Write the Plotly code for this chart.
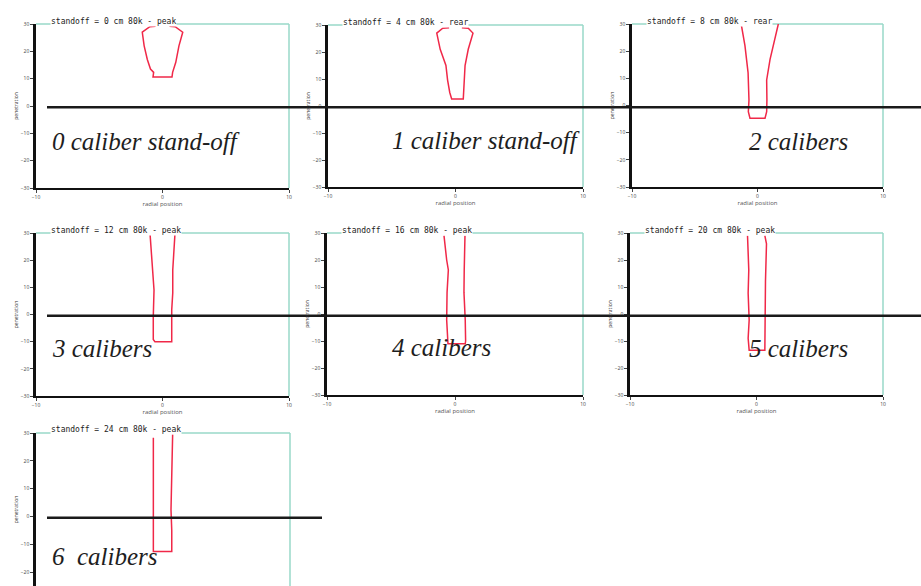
import plotly.graph_objects as go

W, H = 921, 586

# ---- data ----
calibers = [0, 1, 2, 3, 4, 5, 6]
labels = ["0 caliber stand-off", "1 caliber stand-off", "2 calibers", "3 calibers",
          "4 calibers", "5 calibers", "6  calibers"]
titles = ["standoff = 0 cm 80k - peak", "standoff = 4 cm 80k - rear", "standoff = 8 cm 80k - rear",
          "standoff = 12 cm 80k - peak", "standoff = 16 cm 80k - peak", "standoff = 20 cm 80k - peak",
          "standoff = 24 cm 80k - peak"]

p0_x = [-0.55, -1.0, -1.6, -1.45, -1.2, -0.95, -0.7, -0.75, 0.75, 0.8, 1.05, 1.3, 1.6, 1.0, 0.55]
p0_y = [29.2, 29.0, 27.0, 22.0, 17.0, 13.5, 12.3, 10.6, 10.6, 12.3, 16.0, 22.0, 27.0, 29.0, 29.2]
p1_x = [-0.5, -1.0, -1.47, -1.2, -0.75, -0.62, -0.45, -0.30, 0.61, 0.66, 0.75, 1.0, 1.37, 1.0, 0.5]
p1_y = [29.0, 28.8, 27.0, 21.0, 15.0, 9.6, 5.0, 2.6, 2.6, 8.0, 15.0, 21.0, 27.0, 28.8, 29.0]
p2_x = [-1.3, -1.0, -0.75, -0.72, -0.68, -0.73, -0.60, 0.60, 0.73, 0.75, 0.73, 1.0, 1.3, 1.66]
p2_y = [30.0, 22.0, 12.0, 9.4, 2.0, -2.3, -4.7, -4.7, -2.3, 2.0, 9.4, 17.0, 23.0, 30.0]
p3_x = [-0.99, -0.85, -0.73, -0.67, -0.73, -0.73, -0.6, 0.73, 0.73, 0.73, 0.81, 0.81, 0.99]
p3_y = [30.0, 22.0, 13.9, 9.0, -0.8, -9.2, -10.0, -10.0, -9.2, 1.7, 7.9, 16.4, 30.0]
p4_x = [-0.86, -0.78, -0.65, -0.52, -0.62, -0.65, -0.6, -0.55, 0.80, 0.83, 0.80, 0.70, 0.72, 0.78]
p4_y = [29.0, 25.0, 20.0, 16.3, 8.0, -2.2, -10.3, -11.0, -11.0, -10.0, -2.2, 8.0, 16.3, 29.0]
p5_x = [-0.71, -0.66, -0.61, -0.66, -0.58, -0.66, -0.61, -0.58, 0.66, 0.66, 0.66, 0.71, 0.79, 0.66]
p5_y = [29.0, 22.0, 16.3, 7.7, -2.2, -9.0, -12.1, -13.4, -13.4, -9.0, -2.2, 12.0, 26.0, 29.0]
p6_x = [-0.76, -0.76, -0.76, 0.69, 0.69, 0.63, 0.69, 0.76]
p6_y = [28.3, 10.0, -12.6, -12.6, -5.0, 2.4, 15.8, 29.5]

profiles_x = [p0_x, p1_x, p2_x, p3_x, p4_x, p5_x, p6_x]
profiles_y = [p0_y, p1_y, p2_y, p3_y, p4_y, p5_y, p6_y]

x_ticks = [-10, 0, 10]
y_ticks = [-30, -20, -10, 0, 10, 20, 30]
surface_level = -0.5

# ---- layout geometry (pixels: left, right, top, bottom) ----
boxes = [(36, 289, 24, 188), (328, 583, 25, 187), (632, 883, 24, 187),
         (36, 289, 233, 396), (327, 583, 233, 395), (630, 883, 233, 395),
         (36, 290, 433, 586)]
yranges = [[-30, 30]] * 6 + [[-25, 30]]
label_pos = [(50, 141, "left"), (582, 140, "right"), (850, 141, "right"),
             (50, 348, "left"), (493, 347, "right"), (850, 348, "right"),
             (50, 556, "left")]

fig = go.Figure()
shapes = []
annotations = []
layout = {}
teal = "#98d9c8"
red = "#f02848"

for i in range(7):
    n = "" if i == 0 else str(i + 1)
    xa, ya = "x" + n, "y" + n
    L, R, T, B = boxes[i]
    fig.add_trace(go.Scatter(x=profiles_x[i], y=profiles_y[i], mode="lines",
                             line=dict(color=red, width=1.5), xaxis=xa, yaxis=ya,
                             showlegend=False, hoverinfo="skip"))
    last = i == 6
    layout["xaxis" + n] = dict(domain=[L / W, R / W], anchor=ya, range=[-10, 10],
                               tickvals=x_ticks, ticks="" if last else "outside", ticklen=3,
                               showticklabels=not last, automargin=False,
                               tickfont=dict(size=5, color="#444"), showline=not last,
                               linecolor="#111", linewidth=2, showgrid=False, zeroline=False,
                               title=dict(text="" if last else "radial position",
                                          font=dict(size=6, color="#555"), standoff=2))
    layout["yaxis" + n] = dict(domain=[1 - B / H, 1 - T / H], anchor=xa, range=yranges[i],
                               tickvals=y_ticks, ticks="outside", ticklen=3, automargin=False,
                               tickfont=dict(size=5, color="#444"), showline=True,
                               linecolor="#111", linewidth=2.5, showgrid=False, zeroline=False,
                               title=dict(text="penetration", font=dict(size=5, color="#333"),
                                          standoff=2))
    shapes.append(dict(type="line", xref=xa + " domain", yref=ya + " domain",
                       x0=0, x1=1, y0=1, y1=1, line=dict(color=teal, width=1.5), layer="below"))
    shapes.append(dict(type="line", xref=xa + " domain", yref=ya + " domain",
                       x0=1, x1=1, y0=0, y1=1,
                       line=dict(color=teal, width=1.5), layer="below"))
    annotations.append(dict(text=titles[i], xref=xa + " domain", yref=ya + " domain",
                            x=0.055, y=1.015 if not last else 1.02, xanchor="left", yanchor="middle",
                            showarrow=False, bgcolor="white", borderpad=0,
                            font=dict(family="DejaVu Sans Mono", size=8, color="#222")))
    lx, ly, anc = label_pos[i]
    annotations.append(dict(text="<i>" + labels[i] + "</i>", xref="paper", yref="paper",
                            x=lx / W, y=1 - ly / H, xanchor=anc, yanchor="middle",
                            showarrow=False,
                            font=dict(family="Liberation Serif", size=25, color="#1e1e1e")))

# surface lines across each row
for ya, x1 in [("y", W), ("y4", W), ("y7", 322)]:
    shapes.append(dict(type="line", xref="paper", yref=ya, x0=47 / W, x1=x1 / W,
                       y0=surface_level, y1=surface_level,
                       line=dict(color="#1a1a1a", width=2.5), layer="above"))

fig.update_layout(width=W, height=H, margin=dict(l=0, r=0, t=0, b=0),
                  paper_bgcolor="white", plot_bgcolor="white",
                  shapes=shapes, annotations=annotations, **layout)

fig.write_html("out.html", config={"displayModeBar": False},
               post_script="document.body.style.margin='0px';document.body.style.overflow='hidden';")
